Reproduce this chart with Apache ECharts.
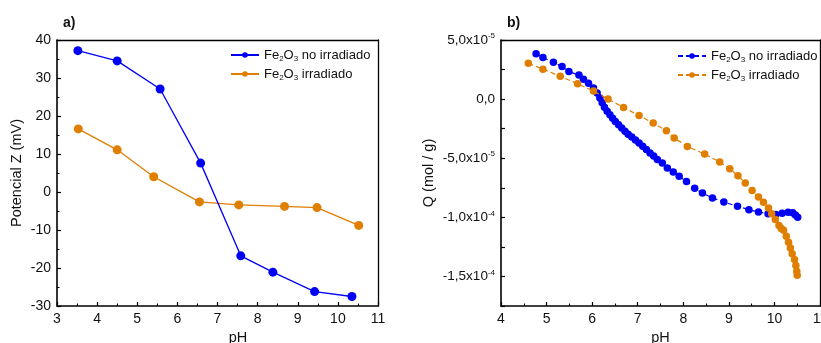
<!DOCTYPE html>
<html><head><meta charset="utf-8">
<script src="https://cdn.jsdelivr.net/npm/echarts@6/dist/echarts.min.js"></script>
<style>html,body{margin:0;padding:0;background:#fff}#c{width:821px;height:343px}</style>
</head><body><div id="c"></div>
<script>
// ---- Panel a) Zeta potential vs pH ----
const pH_a_noIrr = [3.52, 4.50, 5.57, 6.58, 7.58, 8.38, 9.42, 10.35];
const zeta_a_noIrr = [37.2, 34.5, 27.1, 7.6, -16.8, -21.1, -26.2, -27.5];
const pH_a_irr = [3.53, 4.50, 5.41, 6.55, 7.53, 8.67, 9.48, 10.52];
const zeta_a_irr = [16.6, 11.1, 4.0, -2.6, -3.4, -3.8, -4.1, -8.8];

// ---- Panel b) Surface charge Q (mol/g) vs pH ----
const pH_b_noIrr = [4.77, 4.92, 5.15, 5.34, 5.49, 5.71, 5.81, 5.92, 6.03, 6.11, 6.17, 6.22, 6.27, 6.33, 6.39, 6.45, 6.51, 6.58, 6.65, 6.72, 6.79, 6.87, 6.95, 7.03, 7.11, 7.19, 7.27, 7.35, 7.43, 7.54, 7.65, 7.78, 7.91, 8.07, 8.25, 8.42, 8.64, 8.89, 9.19, 9.44, 9.65, 9.86, 10.03, 10.17, 10.30, 10.40, 10.46, 10.51];
const Q_b_noIrr = [3.83e-5, 3.51e-5, 3.12e-5, 2.75e-5, 2.33e-5, 2.03e-5, 1.69e-5, 1.35e-5, 0.93e-5, 0.51e-5, 0.10e-5, -0.30e-5, -0.68e-5, -1.02e-5, -1.33e-5, -1.62e-5, -1.90e-5, -2.17e-5, -2.45e-5, -2.72e-5, -2.97e-5, -3.21e-5, -3.46e-5, -3.72e-5, -3.98e-5, -4.26e-5, -4.55e-5, -4.82e-5, -5.10e-5, -5.41e-5, -5.83e-5, -6.17e-5, -6.53e-5, -6.96e-5, -7.55e-5, -7.95e-5, -8.36e-5, -8.70e-5, -9.07e-5, -9.35e-5, -9.55e-5, -9.70e-5, -9.76e-5, -9.66e-5, -9.58e-5, -9.62e-5, -9.80e-5, -10.0e-5];
const pH_b_irr = [4.60, 4.92, 5.30, 5.68, 6.03, 6.35, 6.69, 7.03, 7.34, 7.63, 7.80, 8.09, 8.47, 8.80, 9.02, 9.20, 9.36, 9.51, 9.65, 9.76, 9.87, 9.94, 10.02, 10.10, 10.15, 10.20, 10.26, 10.31, 10.35, 10.39, 10.44, 10.47, 10.49, 10.50];
const Q_b_irr = [3.04e-5, 2.53e-5, 1.94e-5, 1.29e-5, 0.68e-5, 0.0, -0.71e-5, -1.39e-5, -2.03e-5, -2.68e-5, -3.29e-5, -4.00e-5, -4.65e-5, -5.32e-5, -5.89e-5, -6.48e-5, -7.09e-5, -7.72e-5, -8.28e-5, -8.73e-5, -9.21e-5, -9.69e-5, -10.19e-5, -10.70e-5, -10.95e-5, -11.10e-5, -11.60e-5, -12.10e-5, -12.60e-5, -13.07e-5, -13.57e-5, -14.08e-5, -14.56e-5, -14.90e-5];

const legendNames = {A0: 'no irradiado', A1: 'irradiado', B0: 'no irradiado', B1: 'irradiado'};
const yTicksA = {min: -30, max: 40, interval: 10};
const xTicksA = {min: 3, max: 11, interval: 1};
const xTicksB = {min: 4, max: 11, interval: 1};
const yTicksB = {min: -1.75e-4, max: 5e-5, interval: 2.5e-5};

const FONT = '"Liberation Sans", Arial, sans-serif';
const BLUE = '#0000f5', ORANGE = '#e07e00';
const zip = (xs, ys) => xs.map((x, i) => [x, ys[i]]);

function baseAxis(extra) {
  return Object.assign({
    type: 'value',
    axisLine: {show: true, onZero: false, lineStyle: {color: '#000', width: 1.6}},
    axisTick: {show: true, inside: true, length: 4, lineStyle: {color: '#000', width: 1.2}},
    minorTick: {show: true, splitNumber: 2, length: 2.5, lineStyle: {color: '#000', width: 1.1}},
    splitLine: {show: false},
    axisLabel: {color: '#111', fontSize: 14, fontFamily: FONT, margin: 6},
    nameTextStyle: {color: '#111', fontSize: 14.5, fontFamily: FONT}
  }, extra);
}
function frameAxis(extra) {
  return Object.assign({
    type: 'value',
    axisLine: {show: true, onZero: false, lineStyle: {color: '#000', width: 1.3}},
    axisTick: {show: false}, axisLabel: {show: false}, splitLine: {show: false}
  }, extra);
}

function qLabel(v) {
  const k = Math.round(v / 2.5e-5);
  if (k % 2 !== 0) return '';
  if (k === 0) return '{n|0,0}';
  const s = (k * 2.5e-5).toExponential(1);
  const parts = s.split('e');
  return '{n|' + parts[0].replace('.', ',') + 'x10}{sup|' + parts[1].replace('+', '') + '}';
}

const legendRich = {
  n: {fontSize: 13, fontFamily: FONT, color: '#111', lineHeight: 16},
  sub: {fontSize: 8, fontFamily: FONT, color: '#111', verticalAlign: 'bottom', lineHeight: 16, padding: [7, 0, 0, 0]}
};
function legendFmt(name) {
  return '{n|Fe}{sub|2}{n|O}{sub|3}{n| ' + legendNames[name] + '}';
}

const option = {
  backgroundColor: '#fff',
  animation: false,
  title: [
    {text: 'a)', left: 58, top: 11, textStyle: {fontSize: 14, fontWeight: 'bold', fontFamily: FONT, color: '#111'}},
    {text: 'b)', left: 502, top: 11, textStyle: {fontSize: 14, fontWeight: 'bold', fontFamily: FONT, color: '#111'}}
  ],
  grid: [
    {left: 57, right: 443, top: 40, bottom: 37, outerBoundsMode: 'none', containLabel: false},
    {left: 501, right: 1, top: 40, bottom: 37, outerBoundsMode: 'none', containLabel: false}
  ],
  xAxis: [
    baseAxis(Object.assign({gridIndex: 0, name: 'pH', nameLocation: 'middle', nameGap: 24,
      nameTextStyle: {color: '#111', fontSize: 14.5, fontFamily: FONT, padding: [0, 0, 0, 41]}}, xTicksA)),
    baseAxis(Object.assign({gridIndex: 1, name: 'pH', nameLocation: 'middle', nameGap: 24}, xTicksB)),
    frameAxis(Object.assign({gridIndex: 0, position: 'top'}, xTicksA)),
    frameAxis(Object.assign({gridIndex: 1, position: 'top'}, xTicksB))
  ],
  yAxis: [
    baseAxis(Object.assign({gridIndex: 0, name: 'Potencial Z (mV)', nameLocation: 'middle', nameGap: 33}, yTicksA)),
    baseAxis(Object.assign({gridIndex: 1, name: 'Q (mol / g)', nameLocation: 'middle', nameGap: 65,
      minorTick: {show: false},
      axisLabel: {color: '#111', fontSize: 14, fontFamily: FONT, margin: 6, formatter: qLabel,
        rich: {n: {fontSize: 13.5, fontFamily: FONT, color: '#111', lineHeight: 16},
               sup: {fontSize: 8, fontFamily: FONT, color: '#111', verticalAlign: 'top', lineHeight: 16}}}
    }, yTicksB)),
    frameAxis(Object.assign({gridIndex: 0, position: 'right'}, yTicksA)),
    frameAxis(Object.assign({gridIndex: 1, position: 'right'}, yTicksB))
  ],
  legend: [
    {left: 230, top: 48, padding: 0, orient: 'vertical', itemWidth: 28, itemHeight: 7, itemGap: 4,
      data: ['A0', 'A1'], formatter: legendFmt, textStyle: {rich: legendRich}},
    {left: 677, top: 49, padding: 0, orient: 'vertical', itemWidth: 28, itemHeight: 7, itemGap: 4,
      data: ['B0', 'B1'], formatter: legendFmt, textStyle: {rich: legendRich}}
  ],
  series: [
    {name: 'A0', type: 'line', xAxisIndex: 0, yAxisIndex: 0, z: 3, data: zip(pH_a_noIrr, zeta_a_noIrr),
      symbol: 'circle', symbolSize: 9, color: BLUE, lineStyle: {color: BLUE, width: 1.3}, itemStyle: {color: BLUE}},
    {name: 'A1', type: 'line', xAxisIndex: 0, yAxisIndex: 0, z: 2, data: zip(pH_a_irr, zeta_a_irr),
      symbol: 'circle', symbolSize: 9, color: ORANGE, lineStyle: {color: ORANGE, width: 1.3}, itemStyle: {color: ORANGE}},
    {name: 'B0', type: 'line', xAxisIndex: 1, yAxisIndex: 1, z: 2, data: zip(pH_b_noIrr, Q_b_noIrr),
      symbol: 'circle', symbolSize: 7.5, color: BLUE, lineStyle: {color: BLUE, width: 1.2, type: [5, 3]}, itemStyle: {color: BLUE}},
    {name: 'B1', type: 'line', xAxisIndex: 1, yAxisIndex: 1, z: 3, data: zip(pH_b_irr, Q_b_irr),
      symbol: 'circle', symbolSize: 7.5, color: ORANGE, lineStyle: {color: ORANGE, width: 1.2, type: [5, 3]}, itemStyle: {color: ORANGE}}
  ]
};

const chart = echarts.init(document.getElementById('c'));
chart.setOption(option);
</script>
</body></html>
